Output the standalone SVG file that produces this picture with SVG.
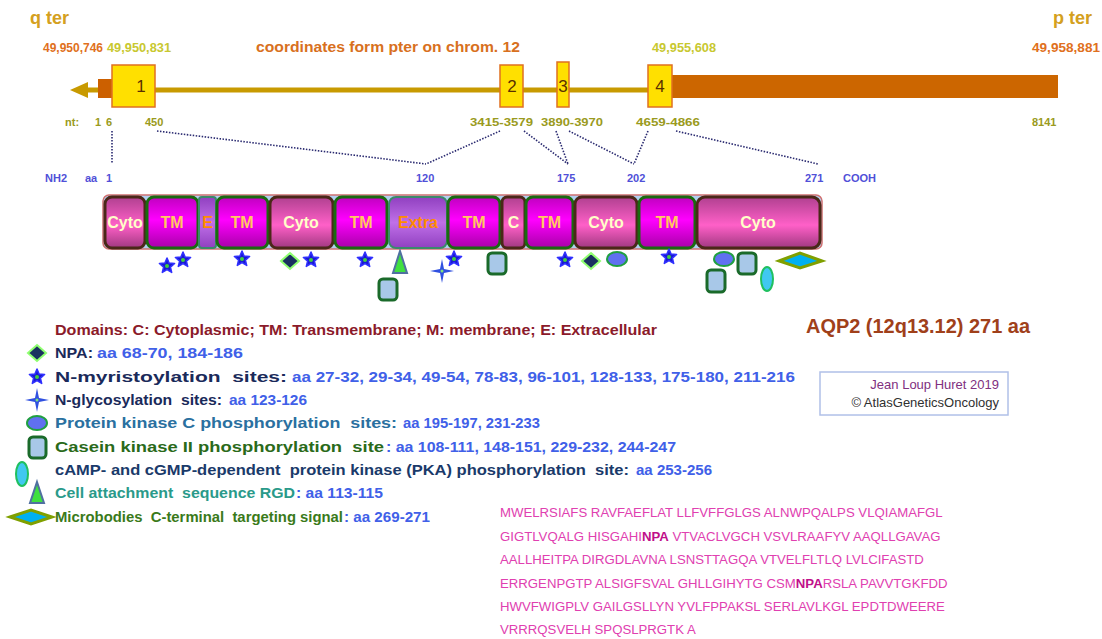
<svg xmlns="http://www.w3.org/2000/svg" width="1102" height="639" viewBox="0 0 1102 639">
<style>
text{font-family:"Liberation Sans",Arial,sans-serif;font-weight:bold}
.ter{font-size:18px;fill:#d4a020}
.co{font-size:12px;fill:#e07020}
.cy{font-size:12px;fill:#c8c830}
.nt{font-size:11px;fill:#9a9a20}
.aa{font-size:11px;fill:#5050d8}
.ex{font-size:17px;fill:#5a3000;font-weight:normal;text-anchor:middle}
.dt{font-size:16px;text-anchor:middle}
.tCyto{fill:#ffffc8}.tTM{fill:#ffc860}.tE{fill:#ff8c00}
.bCyto{fill:url(#gCyto);stroke:#4a2818;stroke-width:3}
.bTM{fill:url(#gTM);stroke:#1a6a10;stroke-width:3}
.bE{fill:url(#gE);stroke:#3a8a6a;stroke-width:2}
.dot{stroke:#2a2a70;stroke-width:1.6;stroke-dasharray:1.5 1.5;fill:none}
.lg{font-size:15px;white-space:pre}
.blue{fill:#4060e8}
.seq{font-size:13.2px;font-weight:normal;fill:#e040b0}
.npa{font-weight:bold;fill:#c0108a}
.cas{fill:#a8c8e8;stroke:#1a6a2a;stroke-width:3}
.pkc{fill:#6070f0;stroke:#20a040;stroke-width:2}
.pka{fill:#40c8f0;stroke:#20c060;stroke-width:2}
.dia{fill:#1a3060;stroke:#90ff70;stroke-width:2}
.mic{fill:#00b0f0;stroke:#80a000;stroke-width:3}
.rgd{fill:#40e040;stroke:#5070a0;stroke-width:2}
</style>
<defs>
<linearGradient id="gTM" x1="0" y1="0" x2="0" y2="1"><stop offset="0" stop-color="#c000c0"/><stop offset="0.45" stop-color="#ff00ff"/><stop offset="1" stop-color="#a800a8"/></linearGradient>
<linearGradient id="gCyto" x1="0" y1="0" x2="0" y2="1"><stop offset="0" stop-color="#b04090"/><stop offset="0.55" stop-color="#ff60c8"/><stop offset="1" stop-color="#a03880"/></linearGradient>
<linearGradient id="gE" x1="0" y1="0" x2="0" y2="1"><stop offset="0" stop-color="#9040c0"/><stop offset="0.5" stop-color="#c070e8"/><stop offset="1" stop-color="#9040c0"/></linearGradient>
<g id="star"><path d="M0,-8 L2.12,-2.91 L7.61,-2.47 L3.42,1.11 L4.7,6.47 L0,3.6 L-4.7,6.47 L-3.42,1.11 L-7.61,-2.47 L-2.12,-2.91 Z" fill="#1a1ad0" stroke="#3030ff" stroke-width="1.5" stroke-linejoin="round"/><circle r="2" fill="#40d040"/></g>
<g id="star4"><path d="M0,-12 L2,-2 L12,0 L2,2 L0,12 L-2,2 L-12,0 L-2,-2 Z" fill="#3050e0"/><circle r="1.5" fill="#80e080"/></g>
<path id="npa" d="M0,-8 L9,0 L0,8 L-9,0 Z"/>
</defs>

<g id="header">
<text class="ter" x="30" y="24">q ter</text>
<text class="ter" x="1053" y="24">p ter</text>
<text class="co" x="43" y="52" textLength="60" lengthAdjust="spacingAndGlyphs">49,950,746</text>
<text class="cy" x="107" y="52" textLength="64" lengthAdjust="spacingAndGlyphs">49,950,831</text>
<text x="256" y="52" font-size="14" fill="#d87020" textLength="264" lengthAdjust="spacingAndGlyphs">coordinates form pter on chrom. 12</text>
<text class="cy" x="652" y="52" textLength="64" lengthAdjust="spacingAndGlyphs">49,955,608</text>
<text class="co" x="1032" y="52" textLength="68" lengthAdjust="spacingAndGlyphs">49,958,881</text>
</g>

<g id="gene">
<line x1="86" y1="90" x2="648" y2="90" stroke="#c89a00" stroke-width="5"/>
<polygon points="70,90 88,82 88,98" fill="#c89a00"/>
<rect x="98" y="79" width="15" height="19" fill="#cc6000"/>
<rect x="670" y="75" width="388" height="23" fill="#cc6600"/>
</g>
<g id="exon1"><rect x="112" y="65" width="43" height="42" fill="#ffe000" stroke="#e07020" stroke-width="1.5"/><text class="ex" x="141" y="92">1</text></g>
<g id="exon2"><rect x="500" y="65" width="23" height="42" fill="#ffe000" stroke="#e07020" stroke-width="1.5"/><text class="ex" x="512" y="92">2</text></g>
<g id="exon3"><rect x="557" y="62" width="12" height="45" fill="#ffe000" stroke="#e07020" stroke-width="1.5"/><text class="ex" x="563" y="92">3</text></g>
<g id="exon4"><rect x="648" y="65" width="24" height="42" fill="#ffe000" stroke="#e07020" stroke-width="1.5"/><text class="ex" x="660" y="92">4</text></g>

<g id="nt-labels">
<text class="nt" x="65" y="126">nt:</text>
<text class="nt" x="95" y="126">1</text>
<text class="nt" x="106" y="126">6</text>
<text class="nt" x="145" y="126">450</text>
<text class="nt" x="470" y="126" textLength="63" lengthAdjust="spacingAndGlyphs">3415-3579</text>
<text class="nt" x="541" y="126" textLength="62" lengthAdjust="spacingAndGlyphs">3890-3970</text>
<text class="nt" x="636" y="126" textLength="64" lengthAdjust="spacingAndGlyphs">4659-4866</text>
<text class="nt" x="1032" y="126">8141</text>
</g>

<g id="aa-labels">
<text class="aa" x="45" y="182">NH2</text>
<text class="aa" x="85" y="182">aa</text>
<text class="aa" x="106" y="182">1</text>
<text class="aa" x="416" y="182">120</text>
<text class="aa" x="557" y="182">175</text>
<text class="aa" x="627" y="182">202</text>
<text class="aa" x="805" y="182">271</text>
<text class="aa" x="843" y="182">COOH</text>
</g>

<g id="connectors">
<line class="dot" x1="112" y1="131" x2="112" y2="163"/>
<line class="dot" x1="157" y1="131" x2="426" y2="164"/>
<line class="dot" x1="500" y1="131" x2="426" y2="164"/>
<line class="dot" x1="524" y1="131" x2="568" y2="164"/>
<line class="dot" x1="556" y1="131" x2="568" y2="164"/>
<line class="dot" x1="569" y1="131" x2="634" y2="164"/>
<line class="dot" x1="648" y1="131" x2="634" y2="164"/>
<line class="dot" x1="676" y1="131" x2="818" y2="164"/>
</g>

<g id="protein-bar">
<rect x="103" y="195" width="719" height="54" rx="6" fill="#b0d0f0" stroke="#d07070" stroke-width="1.5"/>
</g>
<g id="d1"><rect class="bCyto" x="105" y="197" width="40" height="51" rx="7"/><text class="dt tCyto" x="125" y="228">Cyto</text></g>
<g id="d2"><rect class="bTM" x="147" y="197" width="51" height="51" rx="7"/><text class="dt tTM" x="172" y="228">TM</text></g>
<g id="d3"><rect class="bE" x="199" y="197" width="17" height="51" rx="3"/><text class="dt tE" x="207.5" y="228">E</text></g>
<g id="d4"><rect class="bTM" x="217" y="197" width="51" height="51" rx="7"/><text class="dt tTM" x="242" y="228">TM</text></g>
<g id="d5"><rect class="bCyto" x="270" y="197" width="63" height="51" rx="7"/><text class="dt tCyto" x="301" y="228">Cyto</text></g>
<g id="d6"><rect class="bTM" x="335" y="197" width="52" height="51" rx="7"/><text class="dt tTM" x="361" y="228">TM</text></g>
<g id="d7"><rect class="bE" x="389" y="197" width="58" height="51" rx="7"/><text class="dt tE" x="418" y="228">Extra</text></g>
<g id="d8"><rect class="bTM" x="448" y="197" width="52" height="51" rx="7"/><text class="dt tTM" x="474" y="228">TM</text></g>
<g id="d9"><rect class="bCyto" x="502" y="197" width="23" height="51" rx="5"/><text class="dt tCyto" x="513.5" y="228">C</text></g>
<g id="d10"><rect class="bTM" x="526" y="197" width="47" height="51" rx="7"/><text class="dt tTM" x="549.5" y="228">TM</text></g>
<g id="d11"><rect class="bCyto" x="575" y="197" width="62" height="51" rx="7"/><text class="dt tCyto" x="606" y="228">Cyto</text></g>
<g id="d12"><rect class="bTM" x="639" y="197" width="56" height="51" rx="7"/><text class="dt tTM" x="667" y="228">TM</text></g>
<g id="d13"><rect class="bCyto" x="697" y="197" width="123" height="51" rx="8"/><text class="dt tCyto" x="758" y="228">Cyto</text></g>

<g id="sites">
<use href="#star" x="167" y="266"/>
<use href="#star" x="183" y="260"/>
<use href="#star" x="242" y="259"/>
<use href="#npa" class="dia" x="290" y="261"/>
<use href="#star" x="311" y="260"/>
<use href="#star" x="365" y="260"/>
<polygon class="rgd" points="400,251 407,273 393,273"/>
<rect class="cas" x="379" y="279" width="18" height="21" rx="4"/>
<use href="#star4" x="442" y="271"/>
<use href="#star" x="454" y="259"/>
<rect class="cas" x="488" y="253" width="18" height="21" rx="4"/>
<use href="#star" x="565" y="260"/>
<use href="#npa" class="dia" x="591" y="261"/>
<ellipse class="pkc" cx="617" cy="259" rx="10" ry="7"/>
<use href="#star" x="669" y="257"/>
<ellipse class="pkc" cx="724" cy="259" rx="10" ry="7"/>
<rect class="cas" x="738" y="253" width="18" height="21" rx="4"/>
<rect class="cas" x="707" y="270" width="18" height="22" rx="4"/>
<ellipse class="pka" cx="767" cy="279" rx="6" ry="12"/>
<polygon class="mic" points="779,261 800,253 822,261 800,268"/>
</g>

<g id="legend">
<text class="lg" x="55" y="335" fill="#8b1a2a" textLength="602" lengthAdjust="spacingAndGlyphs">Domains: C: Cytoplasmic; TM: Transmembrane; M: membrane; E: Extracellular</text>
<use href="#npa" class="dia" x="37" y="353"/>
<text class="lg" x="55" y="358" fill="#1a2a5a" textLength="38" lengthAdjust="spacingAndGlyphs">NPA:</text>
<text class="lg blue" x="97" y="358" textLength="146" lengthAdjust="spacingAndGlyphs">aa 68-70, 184-186</text>
<use href="#star" x="37" y="377"/>
<text class="lg" x="55" y="382" fill="#1a2a5a" textLength="232" lengthAdjust="spacingAndGlyphs" xml:space="preserve">N-myristoylation  sites:</text>
<text class="lg blue" x="292" y="382" textLength="503" lengthAdjust="spacingAndGlyphs">aa 27-32, 29-34, 49-54, 78-83, 96-101, 128-133, 175-180, 211-216</text>
<use href="#star4" x="37" y="400"/>
<text class="lg" x="55" y="405" fill="#1a2a5a" textLength="167" lengthAdjust="spacingAndGlyphs" xml:space="preserve">N-glycosylation  sites:</text>
<text class="lg blue" x="229" y="405" textLength="78" lengthAdjust="spacingAndGlyphs">aa 123-126</text>
<ellipse class="pkc" cx="37" cy="423" rx="10" ry="7"/>
<text class="lg" x="55" y="428" fill="#2a70a0" textLength="342" lengthAdjust="spacingAndGlyphs" xml:space="preserve">Protein kinase C phosphorylation  sites:</text>
<text class="lg blue" x="403" y="428" textLength="137" lengthAdjust="spacingAndGlyphs">aa 195-197, 231-233</text>
<rect class="cas" x="29" y="437" width="17" height="21" rx="4"/>
<text class="lg" x="55" y="452" fill="#2a6a1a" textLength="329" lengthAdjust="spacingAndGlyphs" xml:space="preserve">Casein kinase II phosphorylation  site</text>
<text class="lg blue" x="386" y="452" textLength="290" lengthAdjust="spacingAndGlyphs">: aa 108-111, 148-151, 229-232, 244-247</text>
<ellipse class="pka" cx="22" cy="474" rx="6" ry="12"/>
<text class="lg" x="55" y="475" fill="#1a3a6a" textLength="574" lengthAdjust="spacingAndGlyphs" xml:space="preserve">cAMP- and cGMP-dependent  protein kinase (PKA) phosphorylation  site:</text>
<text class="lg blue" x="636" y="475" textLength="76" lengthAdjust="spacingAndGlyphs">aa 253-256</text>
<polygon class="rgd" points="37,482 44,503 30,503"/>
<text class="lg" x="55" y="498" fill="#2a9a8a" textLength="240" lengthAdjust="spacingAndGlyphs" xml:space="preserve">Cell attachment  sequence RGD</text>
<text class="lg blue" x="296" y="498" textLength="87" lengthAdjust="spacingAndGlyphs">: aa 113-115</text>
<polygon class="mic" points="10,517 31,510 52,517 31,524"/>
<text class="lg" x="55" y="522" fill="#3a7a1a" textLength="288" lengthAdjust="spacingAndGlyphs" xml:space="preserve">Microbodies  C-terminal  targeting signal</text>
<text class="lg blue" x="344" y="522" textLength="86" lengthAdjust="spacingAndGlyphs">: aa 269-271</text>
</g>

<g id="title">
<text x="806" y="333" font-size="20" fill="#a0401a" textLength="224" lengthAdjust="spacingAndGlyphs">AQP2 (12q13.12) 271 aa</text>
</g>

<g id="credit">
<rect x="820" y="372" width="188" height="43" fill="#ffffff" stroke="#b0c0e8" stroke-width="1.5"/>
<text x="999" y="389" font-size="13" fill="#803080" text-anchor="end" style="font-weight:normal">Jean Loup Huret 2019</text>
<text x="999" y="407" font-size="13" fill="#303030" text-anchor="end" style="font-weight:normal">© AtlasGeneticsOncology</text>
</g>

<g id="sequence">
<text class="seq" x="500" y="517">MWELRSIAFS RAVFAEFLAT LLFVFFGLGS ALNWPQALPS VLQIAMAFGL</text>
<text class="seq" x="500" y="541">GIGTLVQALG HISGAHI<tspan class="npa">NPA</tspan> VTVACLVGCH VSVLRAAFYV AAQLLGAVAG</text>
<text class="seq" x="500" y="564">AALLHEITPA DIRGDLAVNA LSNSTTAGQA VTVELFLTLQ LVLCIFASTD</text>
<text class="seq" x="500" y="588">ERRGENPGTP ALSIGFSVAL GHLLGIHYTG CSM<tspan class="npa">NPA</tspan>RSLA PAVVTGKFDD</text>
<text class="seq" x="500" y="611">HWVFWIGPLV GAILGSLLYN YVLFPPAKSL SERLAVLKGL EPDTDWEERE</text>
<text class="seq" x="500" y="634">VRRRQSVELH SPQSLPRGTK A</text>
</g>
</svg>
